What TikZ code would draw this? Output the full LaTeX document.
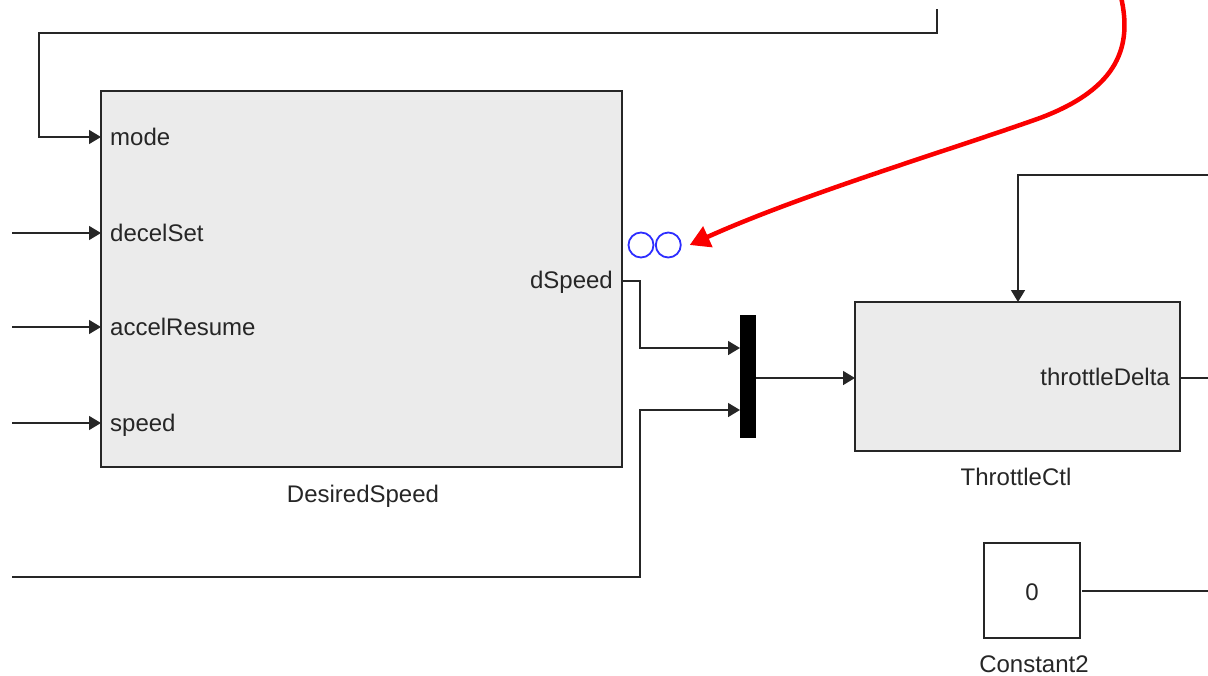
\documentclass[tikz,border=0pt]{standalone}
\usepackage{fontspec}
\setmainfont{Liberation Sans}
\usetikzlibrary{arrows.meta,positioning,calc}
\definecolor{blkfill}{HTML}{EBEBEB}
\definecolor{wirec}{HTML}{262626}
\definecolor{probe}{RGB}{45,45,255}
\definecolor{callout}{RGB}{250,0,0}
\tikzset{
  wire/.style={line width=1.5pt,draw=wirec},
  sig/.style={wire,-{Triangle[length=12pt,width=14pt]}},
  blk/.style={draw=wirec,line width=1.5pt,fill=blkfill,inner sep=0pt},
  labeltext/.style={font=\fontsize{24}{28}\selectfont,text=wirec,inner sep=0pt},
  portin/.style={labeltext,anchor=base west},
  portout/.style={labeltext,anchor=base east}
}

\begin{document}
\begin{tikzpicture}[x=1pt,y=-1pt]
\useasboundingbox (0,0) rectangle (1208,675);
% blocks
\node[blk,minimum width=521pt,minimum height=376pt] (ds) at (361.5,279) {};
\node[labeltext,anchor=base] (dsname) at (363,502) {DesiredSpeed};
\node[blk,minimum width=325pt,minimum height=149pt] (tc) at (1017.5,376.5) {};
\node[labeltext,anchor=base] (tcname) at (1016,485) {ThrottleCtl};
\node[blk,fill=white,minimum width=96pt,minimum height=95pt] (c2) at (1032,590.5) {};
\node[labeltext,anchor=base] (c2val) at (c2.center |- 0,600) {0};
\node[labeltext,anchor=base] (c2name) at (1034,672) {Constant2};
\node[fill=black,minimum width=16pt,minimum height=123pt,inner sep=0pt] (mux) at (748,376.5) {};
% port labels
\node[portin] (pmode) at (110,145) {mode};
\node[portin] (pdecel) at (110,241) {decelSet};
\node[portin] (paccel) at (110,335) {accelResume};
\node[portin] (pspeed) at (110,431) {speed};
\node[portout] (pdspeed) at (613,288) {dSpeed};
\node[portout] (pthr) at (1170,385) {throttleDelta};
% port points
\coordinate (ds-mode) at (101,137);
\coordinate (ds-decel) at (101,233);
\coordinate (ds-accel) at (101,327);
\coordinate (ds-speed) at (101,423);
\coordinate (ds-out) at (622,281);
\coordinate (mux-in1) at (740,348);
\coordinate (mux-in2) at (740,410);
\coordinate (mux-out) at (756,378);
\coordinate (tc-in) at (855,378);
\coordinate (tc-top) at (1018,302);
\coordinate (tc-out) at (1180,378);
\coordinate (c2-out) at (1082,591);
% free ends
\coordinate (srcmode) at (937,9);
\coordinate (srcdecel) at (12,233);
\coordinate (srcaccel) at (12,327);
\coordinate (srcspeed) at (12,423);
\coordinate (srcbot) at (12,577);
\coordinate (srctop) at (1208,175);
\coordinate (dstthr) at (1208,378);
\coordinate (dstc2) at (1208,591);
% wires
\draw[sig] (srcmode) |- (39,33) |- (ds-mode);
\draw[sig] (srcdecel) -- (ds-decel);
\draw[sig] (srcaccel) -- (ds-accel);
\draw[sig] (srcspeed) -- (ds-speed);
\draw[sig] (ds-out) -- ++(18,0) |- (mux-in1);
\draw[sig] (srcbot) -| (640,410) -- (mux-in2);
\draw[sig] (mux-out) -- (tc-in);
\draw[sig] (srctop) -| (tc-top);
\draw[wire] (tc-out) -- (dstthr);
\draw[wire] (c2-out) -- (dstc2);
% probe and callout
\node[draw=probe,line width=1.8pt,circle,minimum size=25pt,inner sep=0pt] (probeA) at (641,245) {};
\node[draw=probe,line width=1.8pt,circle,minimum size=25pt,inner sep=0pt,right=0.5pt of probeA] (probeB) {};
\draw[callout,line width=4.5pt,-{Triangle[length=20pt,width=22pt]}]
  (1121,-3) .. controls (1132,45) and (1120,88) .. (1040,118)
  .. controls (950,150) and (800,195) .. ([xshift=8pt]probeB.east);
\end{tikzpicture}
\end{document}
